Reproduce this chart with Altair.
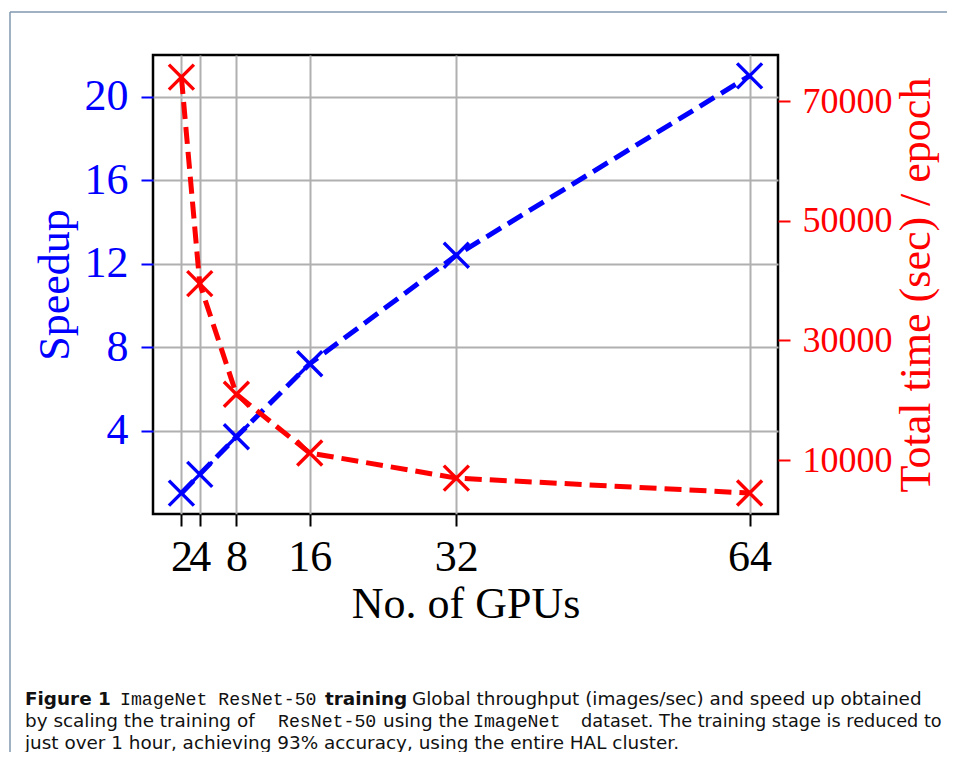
import altair as alt
import pandas as pd

# ---- data ----
gpus = [2, 4, 8, 16, 32, 64]
speedup = [1.0, 1.9, 3.7, 7.2, 12.4, 21.0]
time_per_epoch = [74000, 39500, 21000, 11200, 7000, 4500]

x_ticks = [2, 4, 8, 16, 32, 64]
left_ticks = [4, 8, 12, 16, 20]
right_ticks = [10000, 30000, 50000, 70000]

caption_lines = [
    [("Figure 1", "bold"), ("ImageNet ResNet-50", "mono"), ("training", "bold"),
     ("Global throughput (images/sec) and speed up obtained", "normal")],
    [("by scaling the training of", "normal"), ("ResNet-50", "mono"), ("using the", "normal"),
     ("ImageNet", "mono"), ("dataset. The training stage is reduced to", "normal")],
    [("just over 1 hour, achieving 93% accuracy, using the entire HAL cluster.", "normal")],
]

df = pd.DataFrame({"gpus": gpus, "speedup": speedup, "time": time_per_epoch})

SERIF = "Liberation Serif"
SANS = "DejaVu Sans"
MONO = "Liberation Mono"
X_SHAPE = "M-1,-1L1,1M-1,1L1,-1"

# plot area origin in page coordinates
OX, OY = 153, 55

x_enc = alt.X(
    "gpus:Q",
    scale=alt.Scale(domain=[-1.1, 67.1], nice=False, zero=False),
    axis=alt.Axis(
        values=x_ticks, title="No. of GPUs", grid=True, gridColor="#b0b0b0", gridWidth=2,
        domain=False, tickColor="black", tickSize=12, tickWidth=2,
        labelFont=SERIF, labelFontSize=44, labelColor="black", labelPadding=9,
        labelOverlap=False, labelFlush=False,
        titleFont=SERIF, titleFontSize=44, titleFontWeight="normal", titleColor="black",
        titlePadding=3,
    ),
)

base = alt.Chart(df)

speed_axis = alt.Axis(
    values=left_ticks, title="Speedup", grid=True, gridColor="#b0b0b0", gridWidth=2,
    domain=False, tickColor="blue", tickSize=12, tickWidth=2,
    labelFont=SERIF, labelFontSize=44, labelColor="blue", labelPadding=13,
    titleFont=SERIF, titleFontSize=44, titleFontWeight="normal", titleColor="blue",
    titlePadding=7, orient="left",
)
speed_y = alt.Y("speedup:Q", scale=alt.Scale(domain=[0, 22], nice=False), axis=speed_axis)

speed_line = base.mark_line(color="blue", strokeWidth=5, strokeDash=[17, 8]).encode(x=x_enc, y=speed_y)
speed_pts = base.mark_point(shape=X_SHAPE, size=625, filled=False, color="blue", strokeWidth=3.4, opacity=1).encode(
    x="gpus:Q", y="speedup:Q")
speed_layer = alt.layer(speed_line, speed_pts)

time_axis = alt.Axis(
    values=right_ticks, title="Total time (sec) / epoch", grid=False, format="d",
    domain=False, tickColor="red", tickSize=12, tickWidth=2,
    labelFont=SERIF, labelFontSize=36, labelColor="red", labelPadding=12,
    titleFont=SERIF, titleFontSize=44, titleFontWeight="normal", titleColor="red",
    titlePadding=2, titleAngle=270, titleBaseline="top", orient="right",
)
time_y = alt.Y("time:Q", scale=alt.Scale(domain=[1000, 77700], nice=False, zero=False), axis=time_axis)
time_line = base.mark_line(color="red", strokeWidth=5, strokeDash=[17, 8]).encode(x="gpus:Q", y=time_y)
time_pts = base.mark_point(shape=X_SHAPE, size=625, filled=False, color="red", strokeWidth=3.4, opacity=1).encode(
    x="gpus:Q", y="time:Q")
time_layer = alt.layer(time_line, time_pts)

plot = alt.layer(speed_layer, time_layer).resolve_scale(y="independent")

# ---- caption and frame ----
one = alt.Data(values=[{"a": 1}])
line_x = {0: [25, 120, 325, 412], 1: [25, 278, 383, 473, 581], 2: [25]}
line_y = [705, 727, 749]
deco = []
for i, segs in enumerate(caption_lines):
    for j, ((txt, style), px) in enumerate(zip(segs, line_x[i])):
        font = MONO if style == "mono" else SANS
        size = 18.2 if style == "mono" else 18.4
        if i == 1 and j == 4:
            size = 17.7
        weight = "bold" if style == "bold" else "normal"
        deco.append(
            alt.Chart(one).mark_text(align="left", baseline="alphabetic", font=font, fontSize=size,
                                     fontWeight=weight, color="#111111").encode(
                x=alt.value(px - OX), y=alt.value(line_y[i] - OY), text=alt.value(txt))
        )

frame_color = "#8197b0"
deco.append(alt.Chart(one).mark_rule(color=frame_color, strokeWidth=1.5).encode(
    x=alt.value(10 - OX), x2=alt.value(10 - OX), y=alt.value(12 - OY), y2=alt.value(800 - OY)))
deco.append(alt.Chart(one).mark_rule(color=frame_color, strokeWidth=1.5).encode(
    x=alt.value(10 - OX), x2=alt.value(960 - OX), y=alt.value(12 - OY), y2=alt.value(12 - OY)))

chart = alt.layer(plot, *deco).properties(
    width=625, height=459,
    autosize=alt.AutoSizeParams(type="none"),
    padding={"left": 145, "top": 47, "right": 169, "bottom": 238},
).configure(background="white").configure_view(stroke="black", strokeWidth=2.5)

chart.save("out.html", embed_options={"renderer": "svg", "actions": False})
